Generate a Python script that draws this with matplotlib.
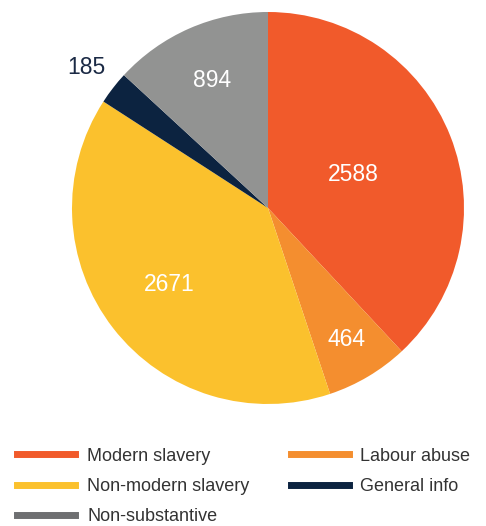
import matplotlib.pyplot as plt
from matplotlib.lines import Line2D
import numpy as np

categories = ["Modern slavery", "Labour abuse", "Non-modern slavery", "General info", "Non-substantive"]
counts = [2588, 464, 2671, 185, 894]
colors = ["#F15A2B", "#F48E2F", "#FBC12D", "#0C2340", "#929392"]
legend_colors = ["#F15A2B", "#F48E2F", "#FBC12D", "#0C2340", "#6E6F71"]

# radial position of each count label (fraction of radius)
label_r = [0.47, 0.78, 0.64, 1.17, 0.71]
label_col = ["white", "white", "white", "#1B2A45", "white"]

plt.rcParams['font.family'] = ['Liberation Sans', 'DejaVu Sans']

fig = plt.figure(figsize=(4.86, 5.26), dpi=100)
ax = fig.add_axes([72 / 486, 122 / 526, 392 / 486, 392 / 526])

wedges, _ = ax.pie(counts, colors=colors, startangle=90, counterclock=False,
                   radius=1, wedgeprops=dict(linewidth=0))
ax.set_xlim(-1, 1)
ax.set_ylim(-1, 1)

for w, n, r, c in zip(wedges, counts, label_r, label_col):
    mid = np.deg2rad((w.theta1 + w.theta2) / 2)
    ax.text(r * np.cos(mid), r * np.sin(mid), str(n), ha='center', va='center',
            fontsize=16.5, color=c)

# legend: first column then second column
order = [0, 2, 4, 1, 3]
handles = [Line2D([0], [0], color=legend_colors[i], lw=5) for i in order]
labels = [categories[i] for i in order]
fig.legend(handles, labels, ncol=2, loc='upper left', bbox_to_anchor=(0.036, 0.149),
           frameon=False, fontsize=13, handlelength=3.2, handletextpad=0.65,
           columnspacing=2.3, labelspacing=0.74, labelcolor='#333333',
           borderpad=0, borderaxespad=0)

fig.savefig("out.png", dpi=100)
